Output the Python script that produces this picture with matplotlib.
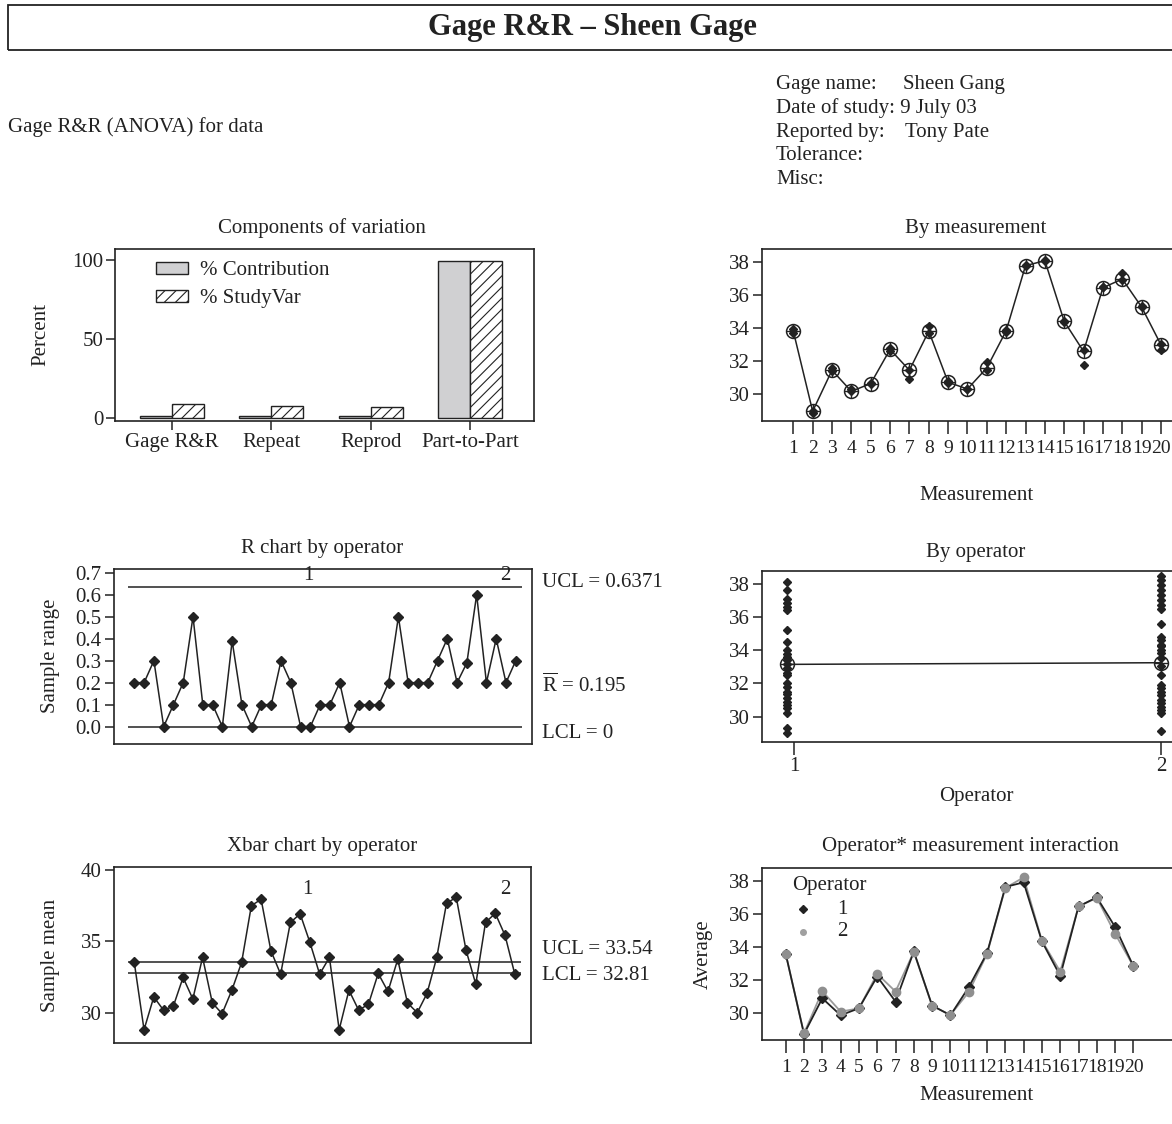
import numpy as np
import matplotlib
matplotlib.use('Agg')
import matplotlib.pyplot as plt
from matplotlib.patches import Rectangle

plt.rcParams['font.family'] = ['Liberation Serif', 'DejaVu Serif']
plt.rcParams['font.size'] = 15
plt.rcParams['hatch.linewidth'] = 0.8

INK = '#222222'
W, H = 1172, 1124

# --- data ---
components = ['Gage R&R', 'Repeat', 'Reprod', 'Part-to-Part']
pct_contribution = [1.2, 1.1, 1.0, 99.2]
pct_studyvar = [9.0, 7.8, 6.7, 99.6]

measurements = list(range(1, 21))
meas_mean = [33.83, 28.97, 31.46, 30.18, 30.65, 32.72, 31.46, 33.83, 30.73, 30.32,
             31.6, 33.85, 37.8, 38.1, 34.42, 32.6, 36.46, 36.99, 35.29, 33.0]
meas_low = [33.7, 28.85, 31.4, 30.2, 30.6, 32.6, 30.9, 33.7, 30.7, 30.3,
            31.5, 33.8, 37.8, 38.1, 34.4, 31.8, 36.5, 36.9, 35.3, 32.7]
meas_high = [33.95, 29.0, 31.6, 30.3, 30.7, 32.8, 31.5, 34.15, 30.8, 30.35,
             31.95, 33.9, 37.85, 38.15, 34.45, 32.7, 36.5, 37.35, 35.35, 33.05]

r_values = [0.2, 0.2, 0.3, 0.0, 0.1, 0.2, 0.5, 0.1, 0.1, 0.0,
            0.39, 0.1, 0.0, 0.1, 0.1, 0.3, 0.2, 0.0, 0.0, 0.1,
            0.1, 0.2, 0.0, 0.1, 0.1, 0.1, 0.2, 0.5, 0.2, 0.2,
            0.2, 0.3, 0.4, 0.2, 0.29, 0.6, 0.2, 0.4, 0.2, 0.3]
r_ucl, r_bar, r_lcl = 0.6371, 0.195, 0.0

xbar_values = [33.53, 28.83, 31.12, 30.19, 30.47, 32.48, 30.98, 33.88, 30.7, 29.95,
               31.59, 33.53, 37.5, 37.94, 34.35, 32.71, 36.33, 36.92, 34.93, 32.71,
               33.88, 28.83, 31.59, 30.19, 30.61, 32.76, 31.5, 33.74, 30.7, 30.02,
               31.36, 33.88, 37.66, 38.08, 34.39, 32.01, 36.33, 36.96, 35.42, 32.71]
x_ucl, x_lcl = 33.54, 32.81

op1_values = [38.14, 37.64, 37.08, 36.83, 36.63, 36.43, 35.23, 34.52, 34.02, 33.78,
              33.62, 33.42, 33.2, 32.91, 32.65, 32.51, 32.01, 31.81, 31.51, 31.37,
              31.1, 30.9, 30.7, 30.5, 30.2, 29.3, 29.04]
op2_values = [38.48, 38.24, 37.94, 37.64, 37.34, 37.04, 36.73, 36.47, 35.59, 34.83,
              34.63, 34.33, 34.23, 34.03, 33.83, 33.53, 33.03, 32.51, 31.91, 31.71,
              31.51, 31.31, 31.0, 30.8, 30.6, 30.4, 30.24, 29.16]
op_means = [33.15, 33.25]

avg_op1 = [33.61, 28.74, 30.91, 29.88, 30.3, 32.23, 30.71, 33.75, 30.47, 29.88,
           31.58, 33.65, 37.66, 37.94, 34.36, 32.27, 36.48, 37.03, 35.23, 32.85]
avg_op2 = [33.6, 28.78, 31.34, 30.1, 30.3, 32.39, 31.32, 33.72, 30.45, 29.9,
           31.28, 33.6, 37.6, 38.24, 34.4, 32.53, 36.48, 37.0, 34.82, 32.85]


def rect(l, t, r, b):
    return [l / W, 1 - b / H, (r - l) / W, (b - t) / H]


def ftext(x, y, s, **kw):
    kw.setdefault('ha', 'center')
    kw.setdefault('va', 'center')
    kw.setdefault('color', INK)
    fig.text(x / W, 1 - y / H, s, **kw)


def style(ax):
    for sp in ax.spines.values():
        sp.set_linewidth(1.2)
        sp.set_color(INK)
    ax.tick_params(direction='out', length=6.5, width=1.1, colors=INK,
                   labelsize=15, pad=2)


fig = plt.figure(figsize=(W / 100, H / 100), dpi=100)

# header
fig.patches.append(Rectangle((8 / W, 1 - 50 / H), 1180 / W, 45 / H, transform=fig.transFigure,
                             fill=False, lw=1.3, ec=INK))
ftext(592, 28, 'Gage R&R – Sheen Gage', fontsize=22, fontweight='bold')
ftext(8, 127, 'Gage R&R (ANOVA) for data', ha='left')
info_y = [84, 108, 132, 156, 180]
ftext(776, info_y[0], 'Gage name:', ha='left')
ftext(903, info_y[0], 'Sheen Gang', ha='left')
ftext(776, info_y[1], 'Date of study: 9 July 03', ha='left')
ftext(776, info_y[2], 'Reported by:', ha='left')
ftext(905, info_y[2], 'Tony Pate', ha='left')
ftext(776, info_y[3], 'Tolerance:', ha='left')
ftext(776, info_y[4], 'Misc:', ha='left')

# components of variation
ax = fig.add_axes(rect(115, 249, 534, 421))
style(ax)
xc = np.arange(len(components))
b1 = ax.bar(xc - 0.16, pct_contribution, width=0.32, color='#d0d0d2', ec=INK, lw=1.0)
b2 = ax.bar(xc + 0.16, pct_studyvar, width=0.32, color='white', ec=INK, lw=1.0, hatch='///')
ax.set_xticks(xc)
ax.set_xticklabels(components)
ax.set_yticks([0, 50, 100])
ax.set_xlim(-0.57, 3.64)
ax.set_ylim(-1.9, 107)
ax.legend([b1, b2], ['% Contribution', '% StudyVar'], loc='upper left',
          bbox_to_anchor=(0.098, 0.93), frameon=False, borderpad=0, borderaxespad=0,
          handlelength=1.55, handleheight=0.5, labelspacing=0.45, handletextpad=0.55,
          fontsize=15, labelcolor=INK)
ftext(322, 228, 'Components of variation')
ftext(41, 335, 'Percent', rotation=90)

# by measurement
ax = fig.add_axes(rect(762, 249, 1190, 421))
style(ax)
ax.plot(measurements, meas_mean, color=INK, lw=1.1, zorder=2)
ax.plot(measurements, meas_low, 'D', color=INK, ms=4.5, zorder=3)
ax.plot(measurements, meas_high, 'D', color=INK, ms=4.5, zorder=3)
ax.plot(measurements, meas_mean, 'o', mfc='none', mec=INK, ms=10, mew=1.1, zorder=4)
ax.plot(measurements, meas_mean, '+', color=INK, ms=10, mew=1.0, zorder=4)
ax.set_xticks(measurements)
ax.tick_params(axis='x', length=9, pad=5, labelsize=14)
ax.set_yticks([30, 32, 34, 36, 38])
ax.set_xlim(-0.618, 21.5)
ax.set_ylim(28.38, 38.81)
ftext(976, 228, 'By measurement')
ftext(976, 495, 'Measurement')

# R chart by operator
n = len(r_values)
idx = np.arange(1, n + 1)
ax = fig.add_axes(rect(113.5, 569, 532, 744))
style(ax)
ax.plot(idx, r_values, '-D', color=INK, lw=1.1, ms=5)
ax.hlines([r_ucl, r_lcl], 0.4, n + 0.6, color=INK, lw=1.1)
ax.text(18.8, 0.645, '1', ha='center', va='bottom', color=INK)
ax.text(38.9, 0.645, '2', ha='center', va='bottom', color=INK)
ax.set_xticks([])
ax.set_yticks(np.round(np.arange(0, 0.71, 0.1), 1))
ax.set_yticklabels([f'{v:.1f}' for v in np.arange(0, 0.71, 0.1)])
ax.set_xlim(-1.13, 41.66)
ax.set_ylim(-0.079, 0.717)
ftext(322, 549, 'R chart by operator')
ftext(50, 656, 'Sample range', rotation=90)
ftext(542, 582, f'UCL = {r_ucl}', ha='left')
ftext(542, 685, r'$\mathregular{\overline{R}}$' + f' = {r_bar}', ha='left')
ftext(542, 733, 'LCL = 0', ha='left')

# by operator
ax = fig.add_axes(rect(762, 571, 1190, 742))
style(ax)
ax.plot([0.98] * len(op1_values), op1_values, 'D', color=INK, ms=4.5, zorder=3)
ax.plot([2.0] * len(op2_values), op2_values, 'D', color=INK, ms=4.5, zorder=3)
ax.plot([0.98, 2.0], op_means, color=INK, lw=1.1, zorder=2)
ax.plot([0.98, 2.0], op_means, 'o', mfc='none', mec=INK, ms=10, mew=1.1, zorder=4)
ax.plot([0.98, 2.0], op_means, '+', color=INK, ms=10, mew=1.0, zorder=4)
ax.set_xticks([1, 2])
ax.tick_params(axis='x', length=9, pad=2)
ax.set_yticks([30, 32, 34, 36, 38])
ax.set_xlim(0.913, 2.079)
ax.set_ylim(28.47, 38.78)
ftext(976, 552, 'By operator')
ftext(976, 797, 'Operator')

# Xbar chart by operator
ax = fig.add_axes(rect(113.5, 867, 531, 1043))
style(ax)
ax.plot(idx, xbar_values, '-D', color=INK, lw=1.1, ms=5)
ax.hlines([x_ucl, x_lcl], 0.4, n + 0.6, color=INK, lw=1.1)
ax.text(18.7, 38.6, '1', ha='center', va='center', color=INK)
ax.text(39.05, 38.6, '2', ha='center', va='center', color=INK)
ax.set_xticks([])
ax.set_yticks([30, 35, 40])
ax.set_xlim(-1.13, 41.66)
ax.set_ylim(27.9, 40.2)
ftext(322, 846, 'Xbar chart by operator')
ftext(50, 955, 'Sample mean', rotation=90)
ftext(542, 950, f'UCL = {x_ucl}', ha='left')
ftext(542, 975, f'LCL = {x_lcl}', ha='left')

# operator * measurement interaction
ax = fig.add_axes(rect(762, 868, 1190, 1040))
style(ax)
ax.plot(measurements, avg_op2, color='#9a9a9a', lw=1.3, zorder=2)
ax.plot(measurements, avg_op1, color=INK, lw=1.3, zorder=3)
ax.plot(measurements, avg_op1, 'D', color=INK, ms=5, zorder=4)
ax.plot(measurements, avg_op2, 'o', color='#8f8f8f', ms=6, zorder=5)
ax.set_xticks(measurements)
ax.tick_params(axis='x', length=9, pad=5, labelsize=14)
ax.set_yticks([30, 32, 34, 36, 38])
ax.set_xlim(-0.295, 23.09)
ax.set_ylim(28.38, 38.81)
ax.text(0.07, 0.9, 'Operator', transform=ax.transAxes, ha='left', va='center', color=INK)
ax.plot([0.095], [0.76], 'D', color=INK, ms=4.5, transform=ax.transAxes)
ax.plot([0.095], [0.63], 'o', color='#a0a0a0', ms=4, transform=ax.transAxes)
ax.text(0.188, 0.76, '1', transform=ax.transAxes, ha='center', va='center', color=INK)
ax.text(0.188, 0.63, '2', transform=ax.transAxes, ha='center', va='center', color=INK)
ftext(970, 847, 'Operator* measurement interaction')
ftext(976, 1095, 'Measurement')
ftext(703, 954, 'Average', rotation=90)

fig.savefig('out.png', dpi=100)
